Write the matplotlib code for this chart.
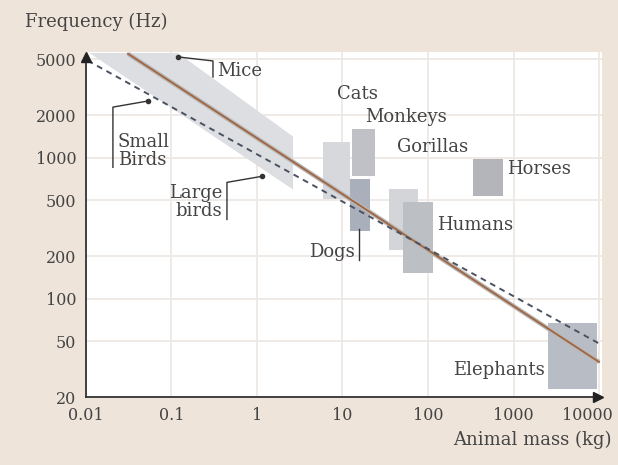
import matplotlib
matplotlib.use("Agg")
import matplotlib.pyplot as plt
import matplotlib.transforms as mtransforms
from matplotlib.patches import Rectangle, Polygon

# frequency ranges of animals (mass in kg, frequency in Hz)
animals = ["Cats", "Monkeys", "Dogs", "Gorillas", "Humans", "Horses", "Elephants"]
mass_lo = [5.9, 12.9, 12.2, 35, 51, 336, 2535]
mass_hi = [12.2, 24, 21, 76, 114, 753, 9480]
freq_lo = [505, 736, 299, 222, 153, 530, 23]
freq_hi = [1285, 1590, 703, 594, 481, 973, 67]
box_colors = ["#d6d8dc", "#bfc1c6", "#aab0bb", "#d3d5d9", "#bcbfc4", "#b3b5ba", "#b8bcc5"]

# mice / birds band
band_mass = [0.011, 0.119, 2.64, 2.64]
band_freq = [5520, 5520, 1410, 594]

# fitted lines (end points)
solid_mass = [0.031, 10000]
solid_freq = [5450, 35.5]
dashed_mass = [0.0105, 10000]
dashed_freq = [4870, 48]

xticks = [0.01, 0.1, 1, 10, 100, 1000, 10000]
xlabels = ["0.01", "0.1", "1", "10", "100", "1000", "10000"]
yticks = [20, 50, 100, 200, 500, 1000, 2000, 5000]
ylabels = ["20", "50", "100", "200", "500", "1000", "2000", "5000"]

bg = "#efe4da"
txt = "#444444"
plt.rcParams["font.family"] = "DejaVu Serif"

fig = plt.figure(figsize=(6.18, 4.65), dpi=100, facecolor=bg)
ax = fig.add_axes([0.139, 0.146, 0.835, 0.742])
ax.set_xscale("log")
ax.set_yscale("log")
ax.set_xlim(0.01, 10800)
ax.set_ylim(20, 5600)

ax.set_xticks(xticks)
ax.set_xticklabels(xlabels)
ax.set_yticks(yticks)
ax.set_yticklabels(ylabels)
ax.minorticks_off()
ax.tick_params(length=0, labelsize=11.5, labelcolor=txt, pad=7)
# nudge the last x label so it stays inside the picture
last = ax.get_xticklabels()[-1]
last.set_transform(last.get_transform() +
                   mtransforms.ScaledTranslation(-0.12, 0, fig.dpi_scale_trans))
ax.grid(True, color="#efe8e4", lw=1.3)
ax.set_axisbelow(True)

for s in ["top", "right"]:
    ax.spines[s].set_visible(False)
for s in ["left", "bottom"]:
    ax.spines[s].set_color("#333333")
    ax.spines[s].set_linewidth(1.3)
ax.spines["left"].set_bounds(20, 5000)
ax.spines["bottom"].set_bounds(0.01, 9600)
ax.plot([0.01], [5150], marker="^", color="#222222", ms=7, clip_on=False, zorder=6)
ax.plot([9800], [20], marker=">", color="#222222", ms=7, clip_on=False, zorder=6)

ax.add_patch(Polygon(list(zip(band_mass, band_freq)), closed=True,
                     facecolor="#dcdee2", edgecolor="none", zorder=1))

for i in range(len(animals)):
    ax.add_patch(Rectangle((mass_lo[i], freq_lo[i]), mass_hi[i] - mass_lo[i],
                           freq_hi[i] - freq_lo[i], facecolor=box_colors[i],
                           edgecolor="none", zorder=2))

ax.plot(solid_mass, solid_freq, color="#b8b8b8", lw=3.2, zorder=3, solid_capstyle="butt")
ax.plot(solid_mass, solid_freq, color="#a0643f", lw=1.3, zorder=4)
ax.plot(dashed_mass, dashed_freq, color="#4a5262", lw=1.4, ls=(0, (3, 2.5)), zorder=4)

fs = 13
ax.text(0.34, 4110, "Mice", fontsize=fs, color=txt, va="center")
ax.plot([0.119, 0.306, 0.306], [5175, 4845, 3730], color="#333333", lw=1, zorder=5)
ax.plot([0.119], [5175], marker="o", ms=3, color="#333333", zorder=5)

ax.text(0.0237, 1109, "Small\nBirds", fontsize=fs, color=txt, va="center", linespacing=1.0)
ax.plot([0.053, 0.0207, 0.0207], [2518, 2280, 853], color="#333333", lw=1, zorder=5)
ax.plot([0.053], [2518], marker="o", ms=3, color="#333333", zorder=5)

ax.text(0.39, 481, "Large\nbirds", fontsize=fs, color=txt, va="center", ha="right",
        linespacing=1.0)
ax.plot([1.14, 0.446, 0.446], [736, 667, 364], color="#333333", lw=1, zorder=5)
ax.plot([1.14], [736], marker="o", ms=3, color="#333333", zorder=5)

ax.text(8.6, 2820, "Cats", fontsize=fs, color=txt, va="center")
ax.text(18.3, 1937, "Monkeys", fontsize=fs, color=txt, va="center")
ax.text(43.4, 1184, "Gorillas", fontsize=fs, color=txt, va="center")
ax.text(840, 826, "Horses", fontsize=fs, color=txt, va="center")
ax.text(127, 335, "Humans", fontsize=fs, color=txt, va="center")
ax.text(14, 215, "Dogs", fontsize=fs, color=txt, va="center", ha="right")
ax.plot([15.6, 15.6], [309, 189], color="#333333", lw=1, zorder=5)
ax.text(2333, 31.1, "Elephants", fontsize=fs, color=txt, va="center", ha="right")

fig.text(0.04, 0.952, "Frequency (Hz)", fontsize=fs, color=txt, va="center")
fig.text(0.99, 0.054, "Animal mass (kg)", fontsize=fs, color=txt, va="center", ha="right")

fig.savefig("out.png", dpi=100, facecolor=bg)
